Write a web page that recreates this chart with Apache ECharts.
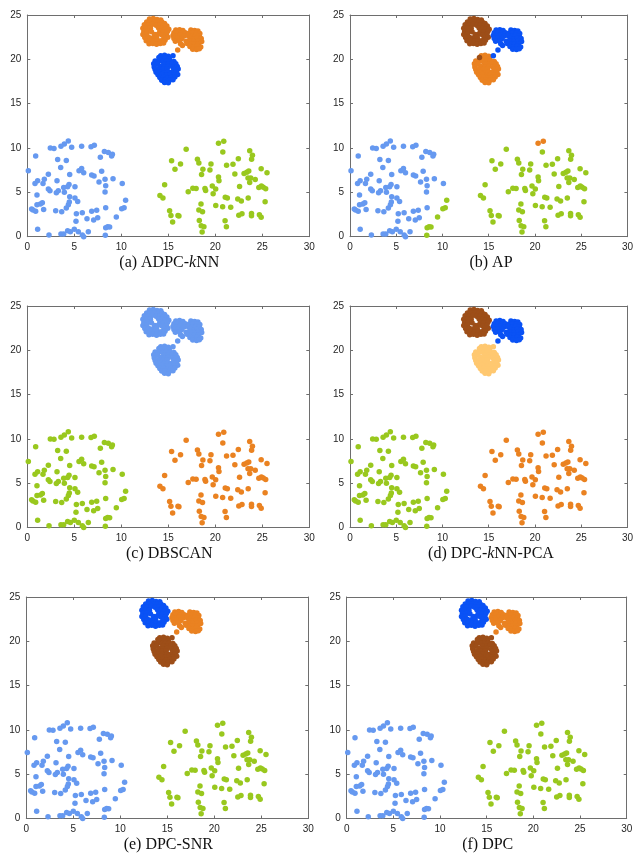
<!DOCTYPE html>
<html>
<head>
<meta charset="utf-8">
<title>Clustering results</title>
<script src="https://cdn.jsdelivr.net/npm/echarts@6/dist/echarts.min.js"></script>
<style>
  html, body { margin: 0; padding: 0; background: #ffffff; }
  #chart { width: 636px; height: 859px; }
</style>
</head>
<body>
<div id="chart"></div>
<script>
// ---- point groups (x, y) ----
const leftCluster = [
  [4.36,10.8],[3.94,10.45],[3.58,10.2],[2.45,10.0],[2.84,9.95],[4.72,10.1],[5.78,10.2],[6.78,10.15],
  [7.13,10.3],[0.89,9.1],[8.2,9.6],[8.62,9.5],[9.05,9.3],[8.97,9.1],[7.77,8.95],[3.23,8.7],[4.15,8.6],
  [3.55,7.8],[0.11,7.44],[5.5,7.44],[5.78,7.7],[6.0,7.2],[6.85,6.95],[7.1,6.85],[7.91,7.37],[2.24,7.03],
  [4.51,7.0],[1.81,6.47],[1.1,6.3],[0.82,6.0],[1.67,6.0],[3.16,6.3],[8.27,6.47],[7.63,6.17],[9.12,6.54],
  [10.1,6.0],[4.44,5.9],[4.29,5.64],[8.34,5.75],[5.07,5.64],[3.87,5.56],[2.24,5.38],[2.41,5.19],[3.3,5.19],
  [3.09,4.96],[3.94,5.0],[8.27,5.04],[1.03,4.7],[4.51,4.5],[5.07,4.36],[5.36,3.98],[4.47,3.9],[1.6,3.83],
  [1.39,3.68],[1.03,3.6],[4.37,3.6],[4.15,3.23],[0.46,3.12],[0.6,3.0],[0.89,2.86],[1.74,3.08],[3.02,2.93],
  [3.66,2.82],[5.22,2.6],[5.85,2.7],[6.85,2.86],[7.38,2.97],[8.34,3.27],[6.35,2.03],[7.06,1.88],[7.49,2.14],
  [5.18,1.73],[1.1,0.83],[4.29,0.68],[4.58,0.56],[5.0,0.83],[5.43,0.56],[6.49,0.56],[3.58,0.3],[3.87,0.3],
  [2.31,0.19],[5.85,0.19],[6.0,0.0]
];
const leftTail = [
  [10.46,4.1],[10.3,3.27],[10.04,3.16],[9.47,2.22],[8.34,1.02],[8.55,1.13],[8.76,1.09],[8.3,0.15]
];
const rightCluster = [
  [16.9,9.85],[20.8,9.55],[15.35,8.57],[16.3,8.2],[18.1,8.74],[18.25,8.3],[15.71,7.6],[18.68,7.62],
  [19.43,7.52],[19.54,8.2],[18.54,7.0],[21.2,8.06],[21.88,8.16],[22.45,8.8],[22.08,7.07],[23.66,9.7],
  [23.95,9.18],[23.86,8.72],[23.06,7.14],[23.35,7.27],[23.56,7.4],[24.88,7.65],[25.5,7.22],[20.34,6.74],
  [20.39,6.31],[23.48,6.63],[23.77,6.63],[23.66,6.1],[24.25,6.45],[14.61,5.86],[17.12,5.08],[17.61,5.47],
  [17.96,5.44],[18.9,5.43],[18.97,5.22],[19.68,5.71],[20.04,5.38],[19.77,4.83],[22.58,5.66],[24.63,5.56],
  [24.9,5.71],[25.1,5.58],[25.36,5.41],[14.11,4.66],[14.43,4.36],[21.06,4.46],[21.28,4.36],[22.39,4.25],
  [22.77,4.02],[23.5,4.36],[25.3,3.93],[18.48,3.68],[20.05,3.53],[20.78,3.38],[21.64,3.31],[18.25,3.0],
  [18.64,2.82],[15.14,2.93],[15.28,2.4],[16.03,2.4],[16.13,2.33],[15.46,1.65],[22.5,2.42],[22.84,2.6],
  [23.85,2.63],[23.85,2.37],[24.69,2.48],[24.88,2.18],[18.3,1.84],[18.5,1.24],[18.79,1.13],[21.04,1.8],
  [21.18,1.13],[18.6,0.53]
];
const rightPeak = [[20.34,10.53],[20.9,10.75]];
const topLeftBlob = [
  [13.0,24.55],[13.4,24.6],[13.8,24.5],[14.2,24.45],
  [12.7,24.2],[13.1,24.25],[13.5,24.2],[13.9,24.15],[14.3,24.2],[14.6,24.05],
  [12.45,23.9],[12.85,23.85],[13.3,23.95],[13.7,23.85],[14.1,23.9],[14.5,23.8],[14.85,23.75],
  [12.3,23.5],[12.7,23.55],[13.1,23.5],[13.95,23.55],[14.35,23.5],[14.7,23.45],[15.05,23.4],
  [12.4,23.15],[12.8,23.2],[13.2,23.1],[14.1,23.2],[14.5,23.1],[14.9,23.15],
  [12.3,22.8],[12.7,22.85],[13.55,22.8],[13.95,22.85],[14.35,22.75],[14.8,22.8],
  [12.5,22.45],[12.9,22.5],[13.3,22.4],[13.75,22.5],[14.55,22.45],[14.95,22.5],
  [12.65,22.1],[13.05,22.15],[13.45,22.05],[13.85,22.15],[14.25,22.1],[14.65,22.15],
  [12.95,21.75],[13.35,21.8],[13.75,21.7],[14.15,21.8],[14.5,21.85]
];
const topRightBlob = [
  [15.8,23.3],[16.2,23.35],[16.55,23.25],[17.4,23.3],[17.8,23.25],[18.15,23.2],
  [15.6,23.0],[16.0,23.05],[16.4,22.95],[16.8,23.0],[17.2,22.95],[17.6,23.0],[18.0,22.95],[18.35,22.9],
  [15.5,22.7],[15.9,22.65],[16.3,22.75],[16.7,22.65],[17.1,22.7],[17.5,22.6],[17.9,22.7],[18.3,22.65],
  [15.6,22.35],[16.0,22.4],[16.45,22.35],[17.3,22.4],[17.7,22.3],[18.1,22.4],[18.5,22.35],
  [15.75,22.05],[16.2,22.1],[16.9,22.05],[17.3,22.1],[17.75,22.0],[18.2,22.1],[18.55,22.0],
  [16.3,21.75],[17.0,21.8],[17.4,21.7],[17.8,21.75],[18.2,21.7],
  [17.3,21.45],[17.7,21.4],[18.1,21.5],[18.45,21.4],
  [17.6,21.15],[18.0,21.1],[18.3,21.2],
  [16.5,21.55],[16.0,21.05]
];
const lowerBlob = [
  [14.2,20.4],[14.6,20.45],[15.0,20.35],
  [14.3,20.1],[14.7,20.15],[15.1,20.05],
  [13.6,19.8],[14.0,19.8],[14.4,19.75],[14.8,19.85],[15.2,19.8],[15.6,19.75],
  [13.45,19.5],[13.85,19.45],[14.6,19.5],[15.0,19.45],[15.4,19.55],[15.8,19.5],
  [13.5,19.15],[14.2,19.2],[14.6,19.15],[15.0,19.2],[15.5,19.1],[15.95,19.2],
  [13.6,18.85],[14.0,18.9],[14.4,18.85],[14.85,18.9],[15.6,18.85],[16.05,18.9],
  [13.7,18.55],[14.1,18.6],[14.5,18.5],[15.0,18.6],[15.4,18.55],[15.85,18.6],
  [13.9,18.25],[14.3,18.3],[14.8,18.2],[15.2,18.3],[15.6,18.25],[16.0,18.3],
  [14.1,17.95],[14.5,18.0],[14.9,17.9],[15.3,17.95],[15.7,18.0],
  [14.3,17.65],[14.7,17.7],[15.1,17.6],[15.5,17.7],
  [14.6,17.4],[15.0,17.35]
];
const lowerBridge = [[15.5,20.4]];
const lowerEdge = [[14.0,20.2]];

// drawing order of the groups
const groupData = [leftCluster, rightCluster, topLeftBlob, topRightBlob, lowerBlob,
                   leftTail, rightPeak, lowerBridge, lowerEdge];

// ---- palette ----
const LB = '#6699f0', GR = '#99c81e', OR = '#ea8221', BL = '#0a52f5', BR = '#9d4e18', PO = '#ffc870';

// ---- panels: caption parts and colour of each group ----
const captionsBefore = ['(a) ADPC-', '(b) AP', '(c) DBSCAN', '(d) DPC-', '(e) DPC-SNR', '(f) DPC'];
const captionsItalic = ['k', '', '', 'k', '', ''];
const captionsAfter  = ['NN', '', '', 'NN-PCA', '', ''];
const panelColors = [
  [LB, GR, OR, OR, BL, LB, GR, BL, BL],
  [LB, GR, BR, BL, OR, GR, OR, BL, BR],
  [GR, OR, LB, LB, LB, GR, OR, LB, LB],
  [GR, OR, BR, BL, PO, GR, OR, PO, PO],
  [LB, GR, BL, OR, BR, LB, GR, BR, BR],
  [LB, GR, BL, OR, BR, LB, GR, BR, BR]
];

// ---- axis ranges and ticks ----
const xMin = 0, xMax = 30, xStep = 5;
const yMin = 0, yMax = 25, yStep = 5;

// ---- plot boxes (pixels) ----
const boxes = [
  { left: 27.3, top: 15,  width: 282, height: 221.7 },
  { left: 350,  top: 15,  width: 280, height: 221.7 },
  { left: 27.3, top: 306, width: 282, height: 221.5 },
  { left: 350,  top: 306, width: 280, height: 221.5 },
  { left: 26.3, top: 597, width: 282, height: 221.5 },
  { left: 346.7,top: 597, width: 280, height: 221.5 }
];

const AXIS_COLOR = '#6e6e6e';
const grid = [], xAxis = [], yAxis = [], series = [], graphics = [];

function axisCommon(min, max, step, pos, labels) {
  return {
    type: 'value', min: min, max: max, interval: step, position: pos,
    axisLine: { show: true, onZero: false, lineStyle: { color: AXIS_COLOR, width: 1 } },
    axisTick: { show: true, inside: true, length: 3, lineStyle: { color: AXIS_COLOR } },
    axisLabel: labels ? { show: true, color: '#262626', fontSize: 10,
                          fontFamily: 'Liberation Sans, Arial, sans-serif', margin: 6 }
                      : { show: false },
    splitLine: { show: false }
  };
}

boxes.forEach(function (b, i) {
  grid.push({ left: b.left, top: b.top, width: b.width, height: b.height, containLabel: false });
  xAxis.push(Object.assign(axisCommon(xMin, xMax, xStep, 'bottom', true), { gridIndex: i }));
  xAxis.push(Object.assign(axisCommon(xMin, xMax, xStep, 'top', false), { gridIndex: i }));
  yAxis.push(Object.assign(axisCommon(yMin, yMax, yStep, 'left', true), { gridIndex: i }));
  yAxis.push(Object.assign(axisCommon(yMin, yMax, yStep, 'right', false), { gridIndex: i }));

  groupData.forEach(function (pts, g) {
    series.push({
      type: 'scatter',
      xAxisIndex: 2 * i, yAxisIndex: 2 * i,
      data: pts,
      symbol: 'circle', symbolSize: 5.5,
      itemStyle: { color: panelColors[i][g], opacity: 1 },
      emphasis: { disabled: true },
      silent: true, animation: false
    });
  });

  graphics.push({
    type: 'text',
    x: b.left + b.width / 2 + 1,
    y: b.top + b.height + 26,
    style: {
      text: '{n|' + captionsBefore[i] + '}' +
            (captionsItalic[i] ? '{i|' + captionsItalic[i] + '}' : '') +
            (captionsAfter[i] ? '{n|' + captionsAfter[i] + '}' : ''),
      align: 'center', verticalAlign: 'middle',
      rich: {
        n: { fontFamily: 'Liberation Serif, DejaVu Serif, serif', fontSize: 16, fill: '#111' },
        i: { fontFamily: 'Liberation Serif, DejaVu Serif, serif', fontSize: 16, fontStyle: 'italic', fill: '#111' }
      }
    }
  });
});

const chart = echarts.init(document.getElementById('chart'), null, { renderer: 'canvas' });
chart.setOption({
  animation: false,
  backgroundColor: '#ffffff',
  grid: grid, xAxis: xAxis, yAxis: yAxis, series: series,
  graphic: graphics
});
</script>
</body>
</html>
